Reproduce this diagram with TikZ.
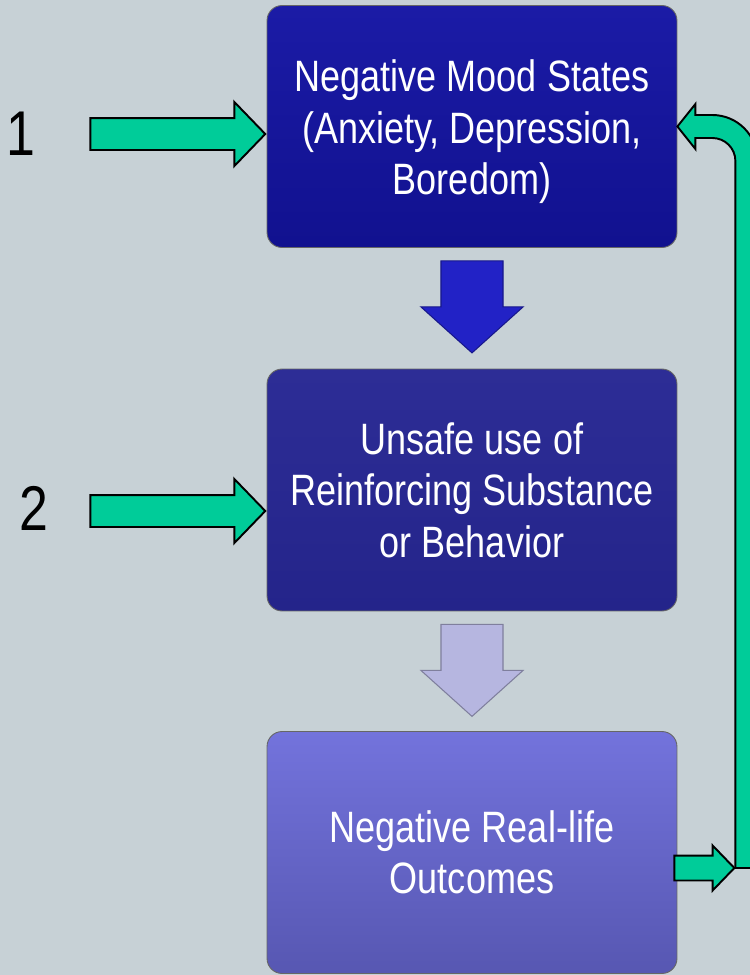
\documentclass[tikz,border=0pt]{standalone}
\usepackage{fontspec}
\newfontfamily\narrowfont[FakeStretch=0.82]{Liberation Sans}
\usepackage{tikz}
\usetikzlibrary{shapes.arrows}
\usetikzlibrary{positioning}
\usetikzlibrary{calc}
\usepackage{xcolor}

\definecolor{slide}{HTML}{C7D1D6}
\definecolor{moodtop}{HTML}{1B1BA6}
\definecolor{moodbot}{HTML}{11118F}
\definecolor{usetop}{HTML}{2D2D96}
\definecolor{usebot}{HTML}{24248A}
\definecolor{outtop}{HTML}{7373DC}
\definecolor{outbot}{HTML}{5757B2}
\definecolor{cue}{HTML}{00CC99}
\definecolor{stepdark}{HTML}{2222C6}
\definecolor{steplight}{HTML}{B6B6E0}

\tikzset{
  stage/.style={draw=black!60, line width=0.5pt, rounded corners=0.3cm,
    minimum width=8.2cm, minimum height=4.84cm, align=center, text=white,
    font=\narrowfont\fontsize{25}{29.3}\selectfont},
  cuearrow/.style={single arrow, draw=black, line width=1.1pt, fill=cue,
    inner xsep=0pt, inner ysep=0.3cm, minimum width=0pt,
    single arrow head extend=0.32cm, single arrow tip angle=92},
  flowarrow/.style={single arrow, rotate=-90, draw=#1!70!black, line width=0.6pt,
    fill=#1, inner xsep=0pt, inner ysep=0.61cm, minimum width=0pt, minimum height=1.84cm,
    single arrow head extend=0.4cm, single arrow tip angle=96},
  num/.style={font=\narrowfont\fontsize{36}{40}\selectfont, text=black}
}

\begin{document}
\begin{tikzpicture}[x=0.02cm, y=-0.02cm]
            % relapse cycle, coordinates in pixels from the top left corner
            \useasboundingbox (0,0) rectangle (750,975);
            \clip (0,0) rectangle (750,975);
            \fill[slide] (0,0) rectangle (750,975);

            \node[stage, top color=moodtop, bottom color=moodbot] (mood) at (472,126.5) {\rule{0pt}{24pt}Negative Mood States\\(Anxiety, Depression,\\Boredom)};
            \node[stage, top color=usetop, bottom color=usebot] (use) at (472,490) {Unsafe use of\\Reinforcing Substance\\or Behavior};
            \node[stage, top color=outtop, bottom color=outbot] (outcome) at (472,852.5) {Negative Real-life\\Outcomes};

            \node[flowarrow=stepdark, anchor=tip] (down1) at ([yshift=0.3cm]use.north) {};
            \node[flowarrow=steplight, anchor=tip] (down2) at ([yshift=0.28cm]outcome.north) {};

            \node[num] (one) at (21,134) {1};
            \node[num] (two) at (34,508) {2};
            \node[cuearrow, minimum height=3.5cm, anchor=tip] (in1) at ([yshift=-0.15cm]mood.west) {};
            \node[cuearrow, minimum height=3.5cm, anchor=tip] (in2) at ([yshift=-0.42cm]use.west) {};

            % feedback from the outcomes back to the mood states
            \node[cuearrow, inner ysep=0.23cm, single arrow head extend=0.2cm, minimum height=1.2cm, anchor=tail] (back) at ([xshift=-0.08cm,yshift=-0.31cm]outcome.east) {};
            \begin{scope}[shift={(mood.east)}]
                \draw[line width=1.1pt, fill=cue, line join=miter]
                    (0,0) -- (18,-22.5) -- (18,-11.5) -- (35,-11.5)
                    .. controls (59.8,-11.5) and (80,8.7) .. (80,33.5)
                    -- (80,0 |- back.tip) -- (58,0 |- back.tip) -- (58,34.5)
                    .. controls (58,21.8) and (47.7,11.5) .. (35,11.5)
                    -- (18,11.5) -- (18,22.5) -- cycle;
            \end{scope}
        \end{tikzpicture}
\end{document}
